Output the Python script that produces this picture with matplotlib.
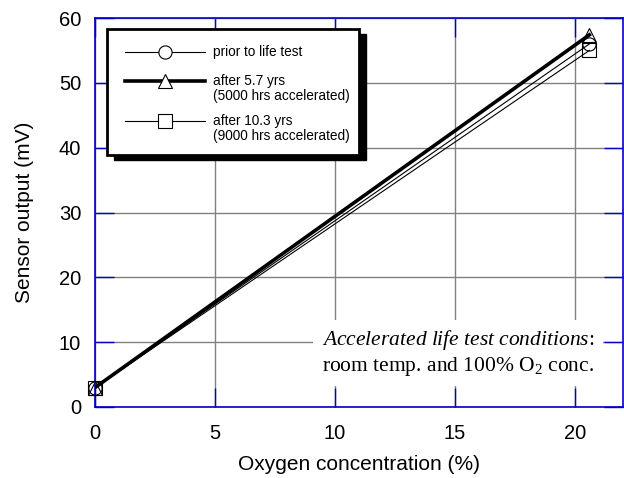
import matplotlib
matplotlib.use("Agg")
import matplotlib.pyplot as plt
from matplotlib.patches import Rectangle
from matplotlib.lines import Line2D

plt.rcParams['font.family'] = ['Liberation Sans', 'DejaVu Sans']
plt.rcParams['mathtext.fontset'] = 'custom'
plt.rcParams['mathtext.rm'] = 'Liberation Serif'
plt.rcParams['mathtext.it'] = 'Liberation Serif:italic'

# ---- data ----
oxygen = [0.0, 20.6]
prior = [3.0, 56.0]
after_5_7 = [3.0, 57.4]
after_10_3 = [3.0, 55.0]
labels = ["prior to life test", "after 5.7 yrs", "after 10.3 yrs"]
sublabels = ["", "(5000 hrs accelerated)", "(9000 hrs accelerated)"]
xticks = [0, 5, 10, 15, 20]
yticks = [0, 10, 20, 30, 40, 50, 60]

BLUE = '#0000c8'
W, H = 624, 478
fig = plt.figure(figsize=(W/100, H/100), dpi=100)
ax = fig.add_axes([95/W, 1-407/H, 528/W, 389/H])

ax.set_xlim(0, 22)
ax.set_ylim(0, 60)
ax.set_xticks(xticks)
ax.set_yticks(yticks)
ax.grid(True, color='#808080', linewidth=1.0)
ax.set_axisbelow(True)
for s in ax.spines.values():
    s.set_color(BLUE)
    s.set_linewidth(1.2)
ax.tick_params(direction='in', length=14, width=1.0, color=BLUE,
               top=True, right=True, labelsize=14.5, pad=10)
ax.tick_params(axis='x', pad=12)

series = [prior, after_5_7, after_10_3]
markers = ['o', '^', 's']
widths = [0.8, 2.6, 0.8]
for ys, m, lw in zip(series, markers, widths):
    ax.plot(oxygen, ys, color='black', linewidth=lw, zorder=3)
    ax.plot(oxygen, ys, linestyle='none', marker=m, markersize=9.5,
            markerfacecolor='none', markeredgecolor='black',
            markeredgewidth=0.8, clip_on=False, zorder=4)

ax.set_xlabel("Oxygen concentration (%)", fontsize=15, labelpad=9)
ax.set_ylabel("Sensor output (mV)", fontsize=15, labelpad=18)

# ---- legend (custom box with shadow) ----
x0, x1 = (107-95)/528, (359-95)/528
yt, yb = (407-29)/389, (407-155)/389
dx, dy = 7/528, 5/389
ax.add_patch(Rectangle((x0+dx, yb-dy), x1-x0, yt-yb, transform=ax.transAxes,
                       facecolor='black', edgecolor='black', zorder=10))
ax.add_patch(Rectangle((x0, yb), x1-x0, yt-yb, transform=ax.transAxes,
                       facecolor='white', edgecolor='black', linewidth=2, zorder=11))
rows = [(407-52)/389, (407-81)/389, (407-121)/389]
hx0, hx1, hm = (125-95)/528, (205-95)/528, (165-95)/528
tx = (213-95)/528
for lab, sub, m, lw, ry in zip(labels, sublabels, markers, widths, rows):
    ax.add_line(Line2D([hx0, hx1], [ry, ry], transform=ax.transAxes,
                       color='black', linewidth=lw, zorder=12))
    ax.add_line(Line2D([hm], [ry], transform=ax.transAxes, marker=m,
                       markersize=9.5, markerfacecolor='white',
                       markeredgecolor='black', markeredgewidth=0.8, zorder=13))
    txt = lab if not sub else lab + "\n" + sub
    ax.text(tx, ry + 7/389, txt, transform=ax.transAxes, fontsize=9.8,
            va='top', ha='left', linespacing=1.05, zorder=13)

# ---- annotation ----
ax.text((458-95)/528, (407-353)/389,
        r"$\mathit{Accelerated\ life\ test\ conditions}$:" + "\n" +
        r"room temp. and 100% O$_{\mathrm{2}}$ conc.",
        transform=ax.transAxes, fontsize=15.5, family='Liberation Serif',
        ha='center', va='center', multialignment='center', linespacing=1.15,
        bbox=dict(facecolor='white', edgecolor='none', pad=6), zorder=8)

fig.savefig("out.png", dpi=100)
